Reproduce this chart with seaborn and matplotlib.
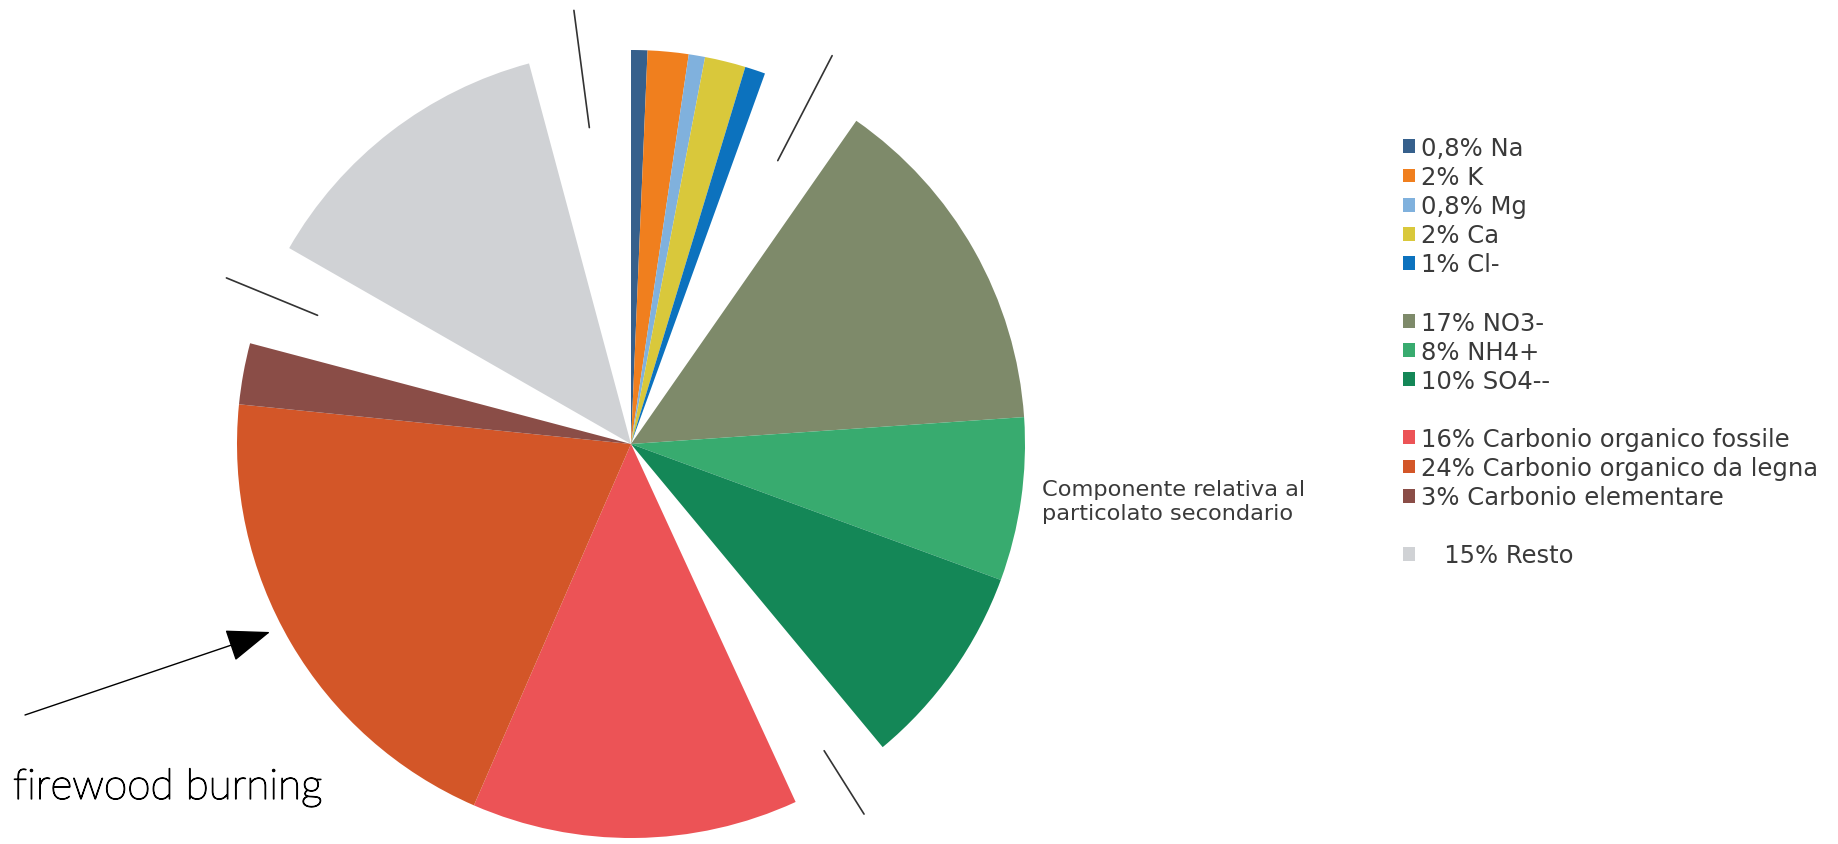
import numpy as np
import matplotlib.pyplot as plt
import matplotlib.patheffects as pe
import seaborn as sns
from matplotlib.patches import Patch

# composition of PM (percent)
labels = ["0,8% Na", "2% K", "0,8% Mg", "2% Ca", "1% Cl-",
          "17% NO3-", "8% NH4+", "10% SO4--",
          "16% Carbonio organico fossile", "24% Carbonio organico da legna", "3% Carbonio elementare",
          "   15% Resto"]
values = [0.8, 2, 0.8, 2, 1, 17, 8, 10, 16, 24, 3, 15]
groups = [0, 0, 0, 0, 0, 1, 1, 1, 2, 2, 2, 3]
colors = ["#36608c", "#f07f1e", "#80b1dd", "#d9c83b", "#0c72be",
          "#7e8a6a", "#38ab6f", "#148757",
          "#ec5356", "#d35628", "#8a4d47",
          "#d0d2d5"]

sns.set_theme(style="white")
plt.rcParams['font.family'] = ['DejaVu Sans']

gap_deg = 15
n_groups = len(set(groups))
gap_val = sum(values) * gap_deg / (360 - n_groups * gap_deg)
# inner radius of the separator stroke drawn in each gap (fraction of R)
sep_start = [0.81, 0.92, 0.86, 0.81]

# pie sequence: each group followed by an empty wedge
pie_vals, pie_cols, is_gap = [], [], []
for g in range(n_groups):
    for v, c, gg in zip(values, colors, groups):
        if gg == g:
            pie_vals.append(v)
            pie_cols.append(c)
            is_gap.append(False)
    pie_vals.append(gap_val)
    pie_cols.append("white")
    is_gap.append(True)

fig = plt.figure(figsize=(18.38, 8.45), dpi=100)
ax = fig.add_axes([0, 0, 1, 1])

cx, cy, R = 631, 400, 394
wedges, _ = ax.pie(pie_vals, colors=pie_cols, startangle=90, counterclock=False,
                   center=(cx, cy), radius=R, frame=True,
                   wedgeprops=dict(linewidth=0))

# separator strokes in the middle of each gap
k = 0
for w, g in zip(wedges, is_gap):
    if g:
        w.set_visible(False)
        mid = np.deg2rad((w.theta1 + w.theta2) / 2)
        r = np.array([sep_start[k], 1.11]) * R
        ax.plot(cx + r * np.cos(mid), cy + r * np.sin(mid), color="#333333", lw=1.2)
        k += 1

ax.set_xlim(0, 1838)
ax.set_ylim(0, 845)
ax.set_aspect('equal')
ax.axis('off')

# legend with blank rows between groups
handles, leg_labels = [], []
prev = groups[0]
for lab, c, g in zip(labels, colors, groups):
    if g != prev:
        handles.append(Patch(facecolor='none', edgecolor='none'))
        leg_labels.append('')
        prev = g
    handles.append(Patch(facecolor=c, edgecolor='none'))
    leg_labels.append(lab)

fig.legend(handles, leg_labels, loc='upper left', bbox_to_anchor=(1403 / 1838, 1 - 137 / 845),
           frameon=False, fontsize=17.5, handlelength=0.5, handleheight=0.5,
           handletextpad=0.25, labelspacing=0.21, borderpad=0, borderaxespad=0,
           labelcolor="#3a3a3a")

ax.text(1042, 845 - 502, "Componente relativa al\nparticolato secondario",
        fontsize=16.2, color="#3a3a3a", va='center', ha='left', linespacing=1.25)

ax.annotate('', xy=(270, 845 - 633), xytext=(25, 845 - 716),
            arrowprops=dict(arrowstyle='-|>,head_length=0.8,head_width=0.3',
                            color='black', lw=1, mutation_scale=35, shrinkA=0, shrinkB=0))
ax.text(13, 845 - 800, "firewood burning", fontsize=30.5, family=['Lato', 'DejaVu Sans'],
        fontweight='light', color='black', va='baseline', ha='left',
        path_effects=[pe.withStroke(linewidth=0.9, foreground='black')])

fig.savefig("out.png", dpi=100)
